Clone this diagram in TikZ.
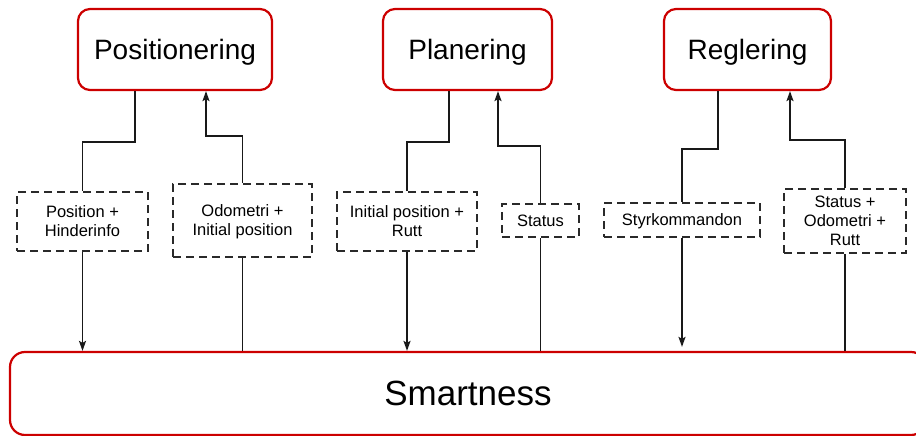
\documentclass[tikz,border=0pt]{standalone}
\usepackage{fontspec}
\setmainfont{Liberation Sans}
\usetikzlibrary{arrows.meta}
\definecolor{boxred}{HTML}{CC0000}
\definecolor{linegray}{HTML}{2A2A2A}

\begin{document}
\begin{tikzpicture}[x=1pt, y=-1pt,
    modul/.style={draw=boxred, line width=2.2pt, rounded corners=12pt, minimum width=#1, minimum height=81pt, inner sep=0pt, text depth=0pt, font=\fontsize{28}{34}\selectfont},
    signal/.style 2 args={draw=linegray, line width=1.7pt, dash pattern=on 8pt off 5pt, minimum width=#1, minimum height=#2, inner sep=0pt, text depth=0pt, align=center, font=\fontsize{16.5}{19}\selectfont},
    flow/.style={line width=1.6pt, draw=black!90},
    pil/.style={flow, -{Stealth[length=10pt, width=7pt, inset=2pt]}}]

    \useasboundingbox (0,0) rectangle (916,436);

    % moduler
    \node[modul=194pt] (pos) at (175,49.5) {Positionering};
    \node[modul=169pt] (plan) at (467.5,49.5) {Planering};
    \node[modul=167pt] (regl) at (747.5,49.5) {Reglering};
    \node[modul=916pt, minimum height=83pt, rounded corners=15pt, font=\fontsize{35}{42}\selectfont] (smart) at (468,393.5) {Smartness};

    % signaler
    \node[signal={131pt}{59pt}] (posin) at (82.5,221.5) {Position +\\Hinderinfo};
    \node[signal={139pt}{73pt}] (posut) at (242.5,220.5) {Odometri +\\Initial position};
    \node[signal={140pt}{59pt}] (planin) at (407,221.5) {Initial position +\\Rutt};
    \node[signal={77pt}{33pt}] (planut) at (540.5,220.5) {Status};
    \node[signal={156pt}{34pt}] (reglin) at (682,220) {Styrkommandon};
    \node[signal={122pt}{64pt}] (reglut) at (845,221) {Status +\\Odometri +\\Rutt};

    % kopplingar uppe
    \draw[flow] ([xshift=-40pt]pos.south) -- ++(0,51) -| (posin.north);
    \draw[pil] (posut.north) -- ++(0,-47) -| ([xshift=31pt]pos.south);
    \draw[flow] ([xshift=-18.5pt]plan.south) -- ++(0,51) -| (planin.north);
    \draw[pil] (planut.north) -- ++(0,-57) -| ([xshift=30.5pt]plan.south);
    \draw[flow] ([xshift=-29.5pt]regl.south) -- ++(0,58) -| (reglin.north);
    \draw[pil] (reglut.north) -- ++(0,-48) -| ([xshift=42.5pt]regl.south);

    % kopplingar nere
    \draw[pil] (posin.south) -- (posin.south |- smart.north);
    \draw[flow] (posut.south |- smart.north) -- (posut.south);
    \draw[pil] (planin.south) -- (planin.south |- smart.north);
    \draw[flow] (planut.south |- smart.north) -- (planut.south);
    \draw[pil] (reglin.south) -- ([yshift=4pt]reglin.south |- smart.north);
    \draw[flow] (reglut.south |- smart.north) -- (reglut.south);

\end{tikzpicture}
\end{document}
